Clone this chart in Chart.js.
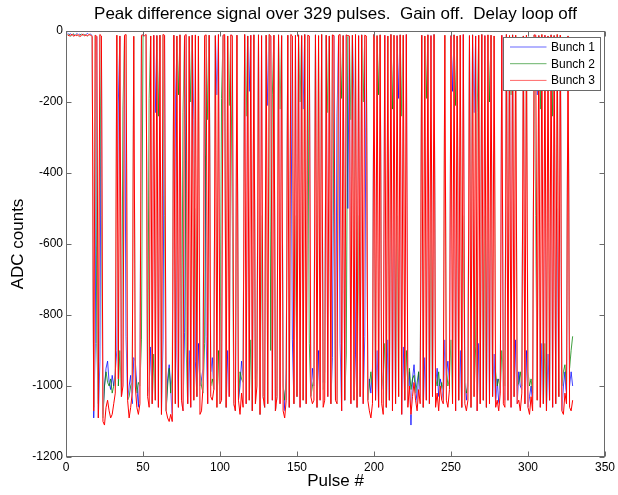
<!DOCTYPE html>
<html>
<head>
<meta charset="utf-8">
<script src="https://cdn.jsdelivr.net/npm/chart.js@4"></script>
<style>
  html, body { margin: 0; padding: 0; background: #fff; }
  canvas { display: block; }
</style>
</head>
<body>
<canvas id="peak-chart" width="618" height="495"></canvas>
<script>
// Peak difference signal, one value per pulse.

const chartTitle = 'Peak difference signal over 329 pulses.  Gain off.  Delay loop off';
const seriesNames = ['Bunch 1', 'Bunch 2', 'Bunch 3'];
const xTicks = [0, 50, 100, 150, 200, 250, 300, 350];
const yTicks = [-1200, -1000, -800, -600, -400, -200, 0];

const bunch1 = [
  -6, -10, -8, -12, -9, -14, -7, -11, -9, -13,
  -8, -12, -10, -7, -11, -9, -13, -1090, -880, -15,
  -1090, -930, -14, -1080, -1000, -950, -930, -990, -1010, -970,
  -1000, -960, -900, -200, -14, -1030, -990, -12, -860, -1040,
  -1000, -970, -1050, -920, -930, -1000, -1060, -960, -12, -11,
  -13, -10, -1030, -1000, -890, -1050, -12, -230, -13, -1060,
  -12, -1080, -870, -12, -1070, -980, -940, -1000, -1100, -12,
  -180, -910, -1060, -11, -1040, -1070, -850, -10, -1050, -900,
  -1060, -12, -250, -930, -1030, -880, -1000, -980, -950, -13,
  -860, -1050, -12, -960, -920, -1010, -13, -180, -10, -1050,
  -1040, -12, -10, -1060, -900, -1030, -11, -13, -1050, -1070,
  -12, -1040, -1000, -930, -970, -10, -1050, -14, -170, -12,
  -1070, -11, -980, -950, -11, -1080, -13, -1030, -1060, -12,
  -210, -10, -14, -1040, -12, -1070, -1030, -11, -1050, -13,
  -990, -1070, -950, -12, -1060, -10, -870, -1050, -12, -1030,
  -11, -1060, -13, -220, -10, -1050, -12, -14, -1030, -950,
  -1000, -11, -1060, -900, -1040, -10, -990, -960, -12, -1030,
  -14, -1050, -920, -13, -1040, -240, -12, -880, -1070, -13,
  -1040, -11, -500, -14, -1050, -12, -200, -910, -1060, -13,
  -1030, -11, -1050, -860, -14, -1040, -980, -1020, -950, -10,
  -1040, -900, -1060, -11, -960, -1010, -12, -1060, -870, -1040,
  -10, -1070, -480, -1050, -13, -190, -11, -1080, -890, -1040,
  -10, -1050, -960, -1110, -980, -940, -1000, -1050, -960, -1030,
  -12, -1060, -920, -1040, -11, -1050, -13, -1030, -10, -1000,
  -950, -1030, -980, -1000, -1050, -870, -970, -930, -990, -13,
  -170, -11, -1070, -14, -1040, -900, -1060, -10, -1000, -1040,
  -970, -13, -1060, -11, -230, -14, -1070, -880, -1050, -10,
  -1040, -13, -1060, -500, -1050, -12, -1030, -910, -1060, -980,
  -1050, -990, -12, -1000, -1040, -10, -1040, -13, -1060, -11,
  -1030, -870, -1050, -960, -1000, -1010, -14, -1050, -900, -1060,
  -1030, -1000, -1050, -11, -12, -180, -13, -1060, -880, -1050,
  -12, -1070, -910, -1040, -11, -1060, -13, -1050, -500, -1030,
  -12, -1070, -1000, -960, -1050, -14, -1000, -960, -1000
];

const bunch2 = [
  -12, -9, -15, -11, -8, -13, -10, -14, -12, -9,
  -13, -10, -12, -15, -9, -11, -14, -1060, -12, -880,
  -1050, -10, -520, -1090, -1000, -960, -990, -1000, -980, -1020,
  -1000, -970, -12, -1000, -900, -1030, -220, -12, -10, -1040,
  -1030, -1000, -990, -15, -960, -1020, -990, -1000, -870, -11,
  -13, -10, -1030, -190, -14, -1050, -910, -1040, -13, -240,
  -12, -1080, -10, -520, -1070, -1000, -950, -1020, -960, -12,
  -1050, -14, -180, -11, -1040, -230, -13, -890, -1050, -15,
  -200, -12, -1040, -500, -1030, -14, -960, -1000, -1020, -880,
  -11, -250, -12, -1000, -980, -1010, -13, -1060, -900, -1050,
  -190, -12, -10, -1060, -14, -210, -11, -520, -1050, -1070,
  -12, -1040, -960, -980, -990, -10, -240, -14, -1040, -870,
  -1070, -11, -1050, -960, -11, -1080, -520, -1030, -1060, -12,
  -1050, -10, -900, -180, -12, -1070, -1030, -11, -220, -13,
  -1000, -1040, -980, -12, -1060, -10, -14, -1050, -520, -1030,
  -11, -200, -13, -1040, -10, -1050, -12, -880, -1030, -1000,
  -980, -11, -1060, -13, -960, -10, -1010, -990, -12, -230,
  -14, -1050, -11, -520, -1040, -1050, -12, -10, -190, -13,
  -1040, -910, -13, -14, -250, -12, -1040, -10, -1060, -520,
  -1030, -11, -200, -12, -14, -1040, -1000, -960, -1010, -10,
  -1040, -13, -180, -11, -1000, -970, -880, -1060, -14, -1040,
  -10, -220, -12, -1050, -520, -1030, -11, -240, -12, -1040,
  -900, -1000, -950, -1010, -980, -970, -1020, -990, -960, -1000,
  -12, -1060, -14, -190, -11, -1050, -520, -1030, -10, -980,
  -1000, -960, -1020, -990, -1010, -12, -950, -1000, -980, -870,
  -1050, -11, -210, -14, -1040, -12, -1060, -520, -990, -1020,
  -1000, -13, -1060, -11, -1030, -890, -230, -12, -1050, -10,
  -1040, -520, -1060, -11, -200, -12, -1030, -14, -960, -1000,
  -980, -1010, -900, -960, -1000, -10, -1040, -13, -180, -11,
  -1030, -12, -1000, -990, -960, -1000, -14, -1050, -12, -960,
  -1000, -980, -1020, -11, -520, -1040, -13, -220, -10, -1050,
  -880, -1070, -14, -1040, -11, -240, -13, -1050, -10, -1030,
  -12, -1000, -960, -940, -1000, -14, -950, -900, -860
];

const bunch3 = [
  -10, -14, -12, -9, -15, -11, -13, -10, -16, -12,
  -9, -14, -11, -13, -10, -12, -15, -1070, -12, -15,
  -1090, -10, -14, -1100, -1110, -1060, -1040, -1070, -1090, -1080,
  -1050, -1020, -12, -980, -14, -1030, -1000, -12, -10, -1040,
  -1090, -1060, -1020, -15, -1000, -1060, -1080, -1050, -12, -11,
  -13, -10, -1030, -1060, -14, -1050, -12, -1040, -13, -1060,
  -12, -1080, -10, -12, -1070, -1090, -1100, -1080, -1100, -12,
  -1050, -14, -1060, -11, -1040, -1070, -13, -10, -1050, -15,
  -1060, -12, -1040, -11, -1030, -14, -1080, -1070, -1000, -13,
  -11, -1050, -12, -1030, -1040, -1010, -13, -1060, -10, -1050,
  -1040, -12, -10, -1060, -14, -1030, -11, -13, -1050, -1070,
  -12, -1040, -1080, -1020, -1060, -10, -1050, -14, -1040, -12,
  -1070, -11, -1050, -1000, -11, -1080, -13, -1030, -1060, -12,
  -1050, -10, -14, -1040, -12, -1070, -1030, -11, -1050, -13,
  -1070, -1090, -1040, -12, -1060, -10, -14, -1050, -12, -1030,
  -11, -1060, -13, -1040, -10, -1050, -12, -14, -1030, -1050,
  -1040, -11, -1060, -13, -1040, -10, -1060, -1040, -12, -1030,
  -14, -1050, -11, -13, -1040, -1050, -12, -10, -1070, -13,
  -1040, -11, -13, -14, -1050, -12, -1040, -10, -1060, -13,
  -1030, -11, -1050, -12, -14, -1040, -1070, -1090, -1050, -10,
  -1040, -13, -1060, -11, -1050, -1080, -12, -1060, -14, -1040,
  -10, -1070, -12, -1050, -13, -1030, -11, -1080, -12, -1040,
  -10, -1060, -1000, -1080, -1030, -990, -1040, -1070, -1010, -1050,
  -12, -1060, -14, -1040, -11, -1050, -13, -1030, -10, -1060,
  -1020, -1070, -1000, -1040, -1050, -12, -1040, -1060, -1010, -13,
  -1050, -11, -1070, -14, -1040, -12, -1060, -10, -1050, -1070,
  -1040, -13, -1060, -11, -1030, -14, -1070, -12, -1050, -10,
  -1040, -13, -1060, -11, -1050, -12, -1030, -14, -1060, -1040,
  -1070, -1020, -12, -1050, -1060, -10, -1040, -13, -1060, -11,
  -1030, -12, -1050, -1040, -1070, -1020, -14, -1050, -12, -1060,
  -1080, -1030, -1070, -11, -12, -1040, -13, -1060, -10, -1050,
  -12, -1070, -14, -1040, -11, -1060, -13, -1050, -10, -1030,
  -12, -1070, -1080, -1020, -1050, -14, -1060, -1070, -1040
];

const seriesColors = ['#0000ff', '#008000', '#ff0000'];
const FONT = '"Liberation Sans", Arial, Helvetica, sans-serif';
const FRAME = '#6a6a6a';

function toPoints(values) {
    return values.map((v, i) => ({ x: i + 1, y: v }));
}

// MATLAB-style box, inward ticks, inset legend and title
const matlabDecor = {
    id: 'matlabDecor',
    afterDraw(chart) {
        const { ctx, chartArea: a, scales: { x, y } } = chart;
        const L = Math.round(a.left) + 0.5, R = Math.round(a.right) - 0.5;
        const T = Math.round(a.top) + 0.5, B = Math.round(a.bottom) - 0.5;
        ctx.save();
        ctx.strokeStyle = FRAME;
        ctx.lineWidth = 1;
        ctx.strokeRect(L, T, R - L, B - T);

        ctx.beginPath();
        xTicks.forEach(v => {
            const px = Math.round(x.getPixelForValue(v)) + 0.5;
            ctx.moveTo(px, B); ctx.lineTo(px, B - 5);
            ctx.moveTo(px, T); ctx.lineTo(px, T + 5);
        });
        yTicks.forEach(v => {
            const py = Math.round(y.getPixelForValue(v)) + 0.5;
            ctx.moveTo(L, py); ctx.lineTo(L + 5, py);
            ctx.moveTo(R, py); ctx.lineTo(R - 5, py);
        });
        ctx.stroke();

        // legend
        const lx = Math.round(a.right) - 102 + 0.5, ly = Math.round(a.top) + 6 + 0.5;
        const lw = 97, lh = 53;
        ctx.fillStyle = '#fff';
        ctx.fillRect(lx, ly, lw, lh);
        ctx.strokeRect(lx, ly, lw, lh);
        ctx.font = '12px ' + FONT;
        ctx.textAlign = 'left';
        ctx.textBaseline = 'middle';
        seriesNames.forEach((name, i) => {
            const ry = ly + 9.5 + i * 16.7;
            ctx.strokeStyle = seriesColors[i];
            ctx.lineWidth = 0.6;
            ctx.beginPath();
            ctx.moveTo(lx + 6.5, ry); ctx.lineTo(lx + 43, ry);
            ctx.stroke();
            ctx.fillStyle = '#000';
            ctx.fillText(name, lx + 47.5, ry + 0.5);
        });

        // title, centred over the axes
        ctx.font = '17px ' + FONT;
        ctx.textAlign = 'center';
        ctx.fillStyle = '#000';
        ctx.fillText(chartTitle, (a.left + a.right) / 2, 14);
        ctx.restore();
    }
};

const datasets = [bunch1, bunch2, bunch3].map((vals, i) => ({
    label: seriesNames[i],
    data: toPoints(vals),
    borderColor: seriesColors[i],
    borderWidth: [0.75, 0.75, 1][i],
    pointRadius: 0,
    tension: 0,
    fill: false,
    order: [3, 2, 0][i]   // Bunch 3 painted last, on top
}));
// thin white casing under Bunch 3 so it hides the traces it sits on, as in the original
datasets.push({
    label: '',
    data: toPoints(bunch3),
    borderColor: '#ffffff',
    borderWidth: 1.35,
    pointRadius: 0,
    tension: 0,
    fill: false,
    order: 1
});

new Chart(document.getElementById('peak-chart'), {
    type: 'line',
    data: { datasets },
    options: {
        responsive: false,
        animation: false,
        devicePixelRatio: 1,
        layout: { padding: { top: 31, right: 12, left: 0, bottom: 0 } },
        plugins: {
            legend: { display: false },
            title: { display: false },
            tooltip: { enabled: false }
        },
        scales: {
            x: {
                type: 'linear',
                min: xTicks[0],
                max: xTicks[xTicks.length - 1],
                afterBuildTicks: s => { s.ticks = xTicks.map(v => ({ value: v })); },
                afterFit: s => { s.height = 38; },
                grid: { display: false, drawTicks: false },
                border: { display: false },
                ticks: { color: '#000', padding: 3, maxRotation: 0, callback: v => String(v),
                         font: { family: FONT, size: 12 } },
                title: { display: true, text: 'Pulse #', color: '#000', padding: { top: 0, bottom: 3 },
                         font: { family: FONT, size: 17 } }
            },
            y: {
                min: yTicks[0],
                max: yTicks[yTicks.length - 1],
                afterBuildTicks: s => { s.ticks = yTicks.map(v => ({ value: v })); },
                afterFit: s => { s.width = 66; },
                grid: { display: false, drawTicks: false },
                border: { display: false },
                ticks: { color: '#000', padding: 3, callback: v => String(v),
                         font: { family: FONT, size: 12 } },
                title: { display: true, text: 'ADC counts', color: '#000', padding: { top: 8, bottom: 0 },
                         font: { family: FONT, size: 17 } }
            }
        }
    },
    plugins: [matlabDecor]
});
</script>
</body>
</html>
